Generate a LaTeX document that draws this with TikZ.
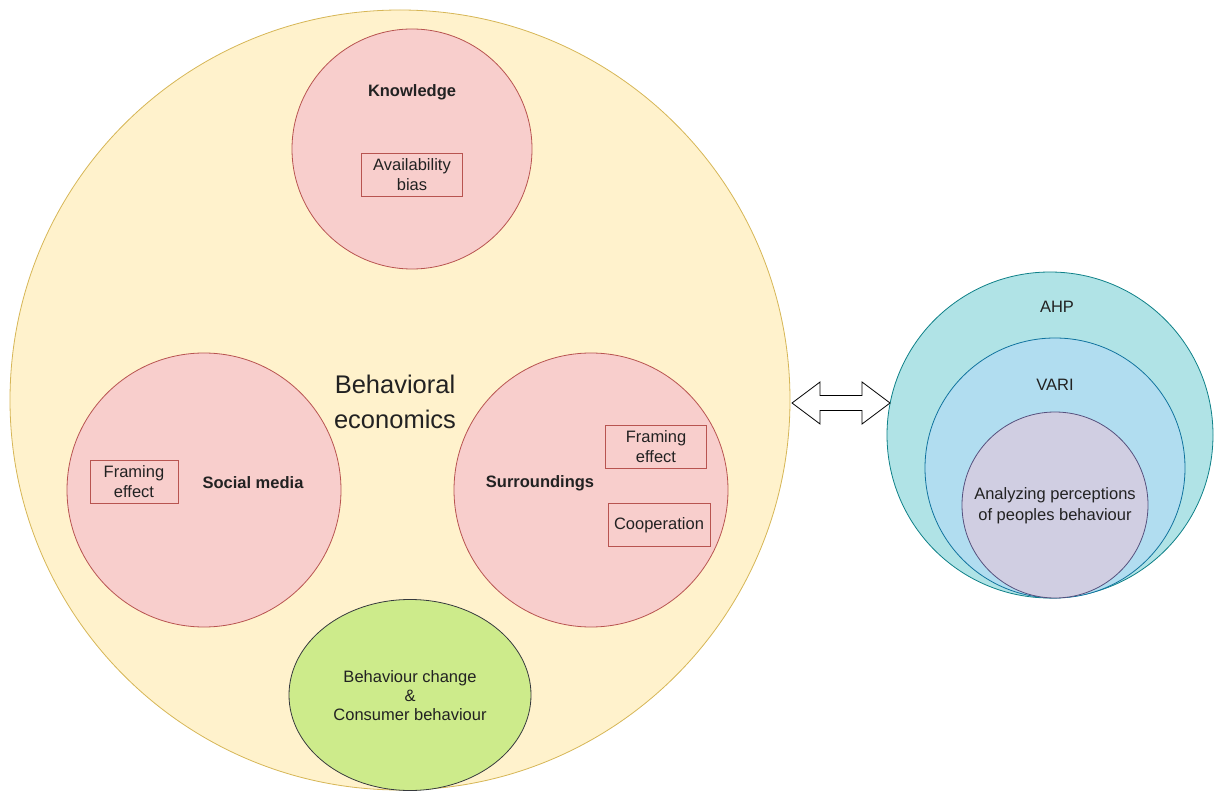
\documentclass[tikz,border=0pt]{standalone}
\usepackage{fontspec}
\setmainfont{Liberation Sans}
\usetikzlibrary{positioning,calc,shapes.geometric}

\definecolor{beFill}{HTML}{FFF2CC}
\definecolor{beLine}{HTML}{D6B656}
\definecolor{pinkFill}{HTML}{F8CECC}
\definecolor{pinkLine}{HTML}{B85450}
\definecolor{greenFill}{HTML}{CDEB8B}
\definecolor{greenLine}{HTML}{36393D}
\definecolor{ahpFill}{HTML}{B0E3E6}
\definecolor{ahpLine}{HTML}{0E8088}
\definecolor{variFill}{HTML}{B1DDF0}
\definecolor{variLine}{HTML}{10739E}
\definecolor{innerFill}{HTML}{D0CEE2}
\definecolor{innerLine}{HTML}{56517E}
\definecolor{txt}{HTML}{222222}

\tikzset{
  bubble/.style={circle, draw=pinkLine, fill=pinkFill, line width=0.8pt, inner sep=0pt},
  ring/.style={circle, line width=0.8pt, inner sep=0pt},
  biasbox/.style={draw=pinkLine, line width=0.8pt, align=center, inner sep=0pt,
    minimum width=101pt, minimum height=43pt, text=txt, font=\fontsize{16.5}{20}\selectfont},
  plaintxt/.style={align=center, inner sep=0pt, text=txt, font=\fontsize{16.5}{21}\selectfont},
  titletxt/.style={plaintxt, font=\fontsize{16.5}{20}\selectfont\bfseries}
}

\begin{document}
\begin{tikzpicture}[x=1pt, y=-1pt]
  \useasboundingbox (0,0) rectangle (1216,791);

  % Behavioral economics
  \node[circle, draw=beLine, fill=beFill, line width=0.8pt, inner sep=0pt, minimum size=780pt] (be) at (400,400) {};
  \node[plaintxt, font=\fontsize{25.5}{35}\selectfont] (beT) at (395,402) {Behavioral\\economics};

  % Knowledge
  \node[bubble, minimum size=240pt] (know) at (412,149) {};
  \node[titletxt] (knowT) at (412,92) {Knowledge};
  \node[biasbox] (avail) at (412,175) {Availability\\bias};

  % Social media
  \node[bubble, minimum size=274pt] (social) at (204,490) {};
  \node[biasbox, minimum width=88pt] (frameA) at (134,482) {Framing\\effect};
  \node[titletxt] (socialT) at (253,483) {Social media};

  % Surroundings
  \node[bubble, minimum size=274pt] (surr) at (591,490) {};
  \node[titletxt] (surrT) at (540,483) {Surroundings};
  \node[biasbox] (frameB) at (656,447) {Framing\\effect};
  \node[biasbox, minimum width=102pt] (coop) at (659,525) {Cooperation};

  % Behaviour change
  \node[ellipse, draw=greenLine, fill=greenFill, line width=0.8pt, inner sep=0pt,
    minimum width=242pt, minimum height=191pt] (change) at (410,695) {};
  \node[plaintxt, font=\fontsize{16.5}{19}\selectfont] (changeT) at (410,696) {Behaviour change\\\&\\Consumer behaviour};

  % AHP / VARI
  \node[ring, draw=ahpLine, fill=ahpFill, minimum size=326pt] (ahp) at (1050,435) {};
  \node[ring, draw=variLine, fill=variFill, minimum size=260pt] (vari) at (1055,468) {};
  \node[ring, draw=innerLine, fill=innerFill, minimum size=186pt] (percep) at (1055,505) {};
  \node[plaintxt] (ahpT) at (1057,307) {AHP};
  \node[plaintxt] (variT) at (1055,385) {VARI};
  \node[plaintxt] (percepT) at (1055,506) {Analyzing perceptions\\of peoples behaviour};

  % Double arrow
  \coordinate (arrL) at (792,403);
  \coordinate (arrR) at (890,403);
  \draw[fill=white, line width=0.8pt] (arrL) -- ++(28,-21) -- ++(0,13.5)
    -- ($(arrR)+(-28,-7.5)$) -- ++(0,-13.5) -- (arrR) -- ++(-28,21) -- ++(0,-13.5)
    -- ($(arrL)+(28,7.5)$) -- ++(0,13.5) -- cycle;
\end{tikzpicture}
\end{document}
